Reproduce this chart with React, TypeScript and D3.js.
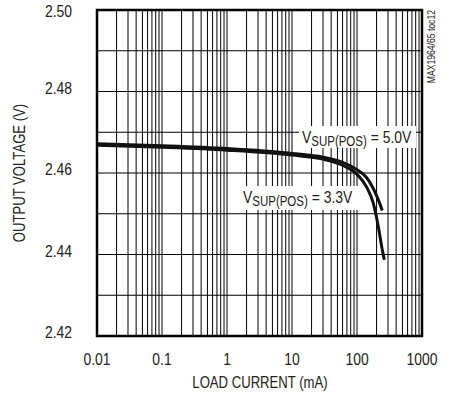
import React from "react";
import * as d3 from "d3";

// Load current (mA) and output voltage (V) for each supply voltage
const current50 = [0.01, 0.1, 1, 10, 30, 60, 100, 140, 178, 213, 245];
const voltage50 = [2.4672, 2.4667, 2.466, 2.4648, 2.4639, 2.4626, 2.4608, 2.4589, 2.4562, 2.4534, 2.4508];
const current33 = [0.01, 0.1, 1, 10, 30, 60, 100, 140, 178, 213, 240, 263];
const voltage33 = [2.4668, 2.4663, 2.4656, 2.4644, 2.4634, 2.4619, 2.4597, 2.4566, 2.4526, 2.4468, 2.4419, 2.4387];

const xTicks = [0.01, 0.1, 1, 10, 100, 1000];
const xTickLabels = ["0.01", "0.1", "1", "10", "100", "1000"];
const yTicks = [2.42, 2.44, 2.46, 2.48, 2.5];
const yTickLabels = ["2.42", "2.44", "2.46", "2.48", "2.50"];
const yGrid = [2.42, 2.43, 2.44, 2.45, 2.46, 2.47, 2.48, 2.49, 2.5];

const FONT = "'Liberation Sans', Arial, sans-serif";
const NARROW = 0.82;

// Condensed text: horizontal squeeze around the anchor point
function T(props: {
  x: number;
  y: number;
  size: number;
  anchor?: "start" | "middle" | "end";
  rotate?: number;
  children: React.ReactNode;
}) {
  const { x, y, size, anchor = "start", rotate = 0, children } = props;
  return (
    <text
      transform={`translate(${x},${y}) rotate(${rotate}) scale(${NARROW},1)`}
      fontSize={size}
      textAnchor={anchor}
    >
      {children}
    </text>
  );
}

export default function App() {
  const width = 452;
  const height = 398;
  const left = 97;
  const right = 422;
  const top = 10;
  const bottom = 336;

  const x = d3.scaleLog().domain([0.01, 1000]).range([left, right]);
  const y = d3.scaleLinear().domain([2.42, 2.5]).range([bottom, top]);

  // Minor and major vertical grid lines for each decade
  const vLines: number[] = [];
  for (let e = -2; e < 3; e++) {
    for (let m = 1; m <= 9; m++) vLines.push(m * Math.pow(10, e));
  }
  vLines.push(1000);

  const line = d3
    .line<[number, number]>()
    .x((d) => x(d[0]))
    .y((d) => y(d[1]))
    .curve(d3.curveMonotoneX);

  const s50 = current50.map((c, i) => [c, voltage50[i]] as [number, number]);
  const s33 = current33.map((c, i) => [c, voltage33[i]] as [number, number]);

  return (
    <svg width={width} height={height} style={{ position: "absolute", left: 0, top: 0 }}>
      <rect x={0} y={0} width={width} height={height} fill="#fff" />
      <g stroke="#000" strokeWidth={1}>
        {vLines.map((v, i) => (
          <line key={"v" + i} x1={x(v)} x2={x(v)} y1={top} y2={bottom} />
        ))}
        {yGrid.map((v, i) => (
          <line key={"h" + i} x1={left} x2={right} y1={y(v)} y2={y(v)} />
        ))}
      </g>

      {/* label backgrounds hide the grid behind the annotations */}
      <rect x={299} y={126} width={117} height={22} fill="#fff" />
      <rect x={240} y={186} width={121} height={24} fill="#fff" />

      <path d={line(s50) || ""} fill="none" stroke="#111" strokeWidth={3} />
      <path d={line(s33) || ""} fill="none" stroke="#111" strokeWidth={3} />

      <rect x={left} y={top} width={right - left} height={bottom - top} fill="none" stroke="#000" strokeWidth={2.5} />

      <g fontFamily={FONT} fill="#222">
        <T x={302} y={143} size={17}>
          V<tspan fontSize={14} dy={3}>SUP(POS)</tspan>
          <tspan dy={-3}> = 5.0V</tspan>
        </T>
        <T x={243} y={203} size={17}>
          V<tspan fontSize={14} dy={3}>SUP(POS)</tspan>
          <tspan dy={-3}> = 3.3V</tspan>
        </T>

        {yTicks.map((v, i) => (
          <T key={"yt" + i} x={72} y={Math.max(y(v) - 4, 11) + 6} size={17} anchor="end">
            {yTickLabels[i]}
          </T>
        ))}
        {xTicks.map((v, i) => (
          <T key={"xt" + i} x={x(v)} y={365} size={17} anchor="middle">
            {xTickLabels[i]}
          </T>
        ))}

        <T x={260} y={388} size={16} anchor="middle">
          LOAD CURRENT (mA)
        </T>
        <T x={25} y={(top + bottom) / 2} size={16} anchor="middle" rotate={-90}>
          OUTPUT VOLTAGE (V)
        </T>
        <T x={435} y={10} size={10.5} anchor="end" rotate={-90}>
          MAX1964/65 toc12
        </T>
      </g>
    </svg>
  );
}
